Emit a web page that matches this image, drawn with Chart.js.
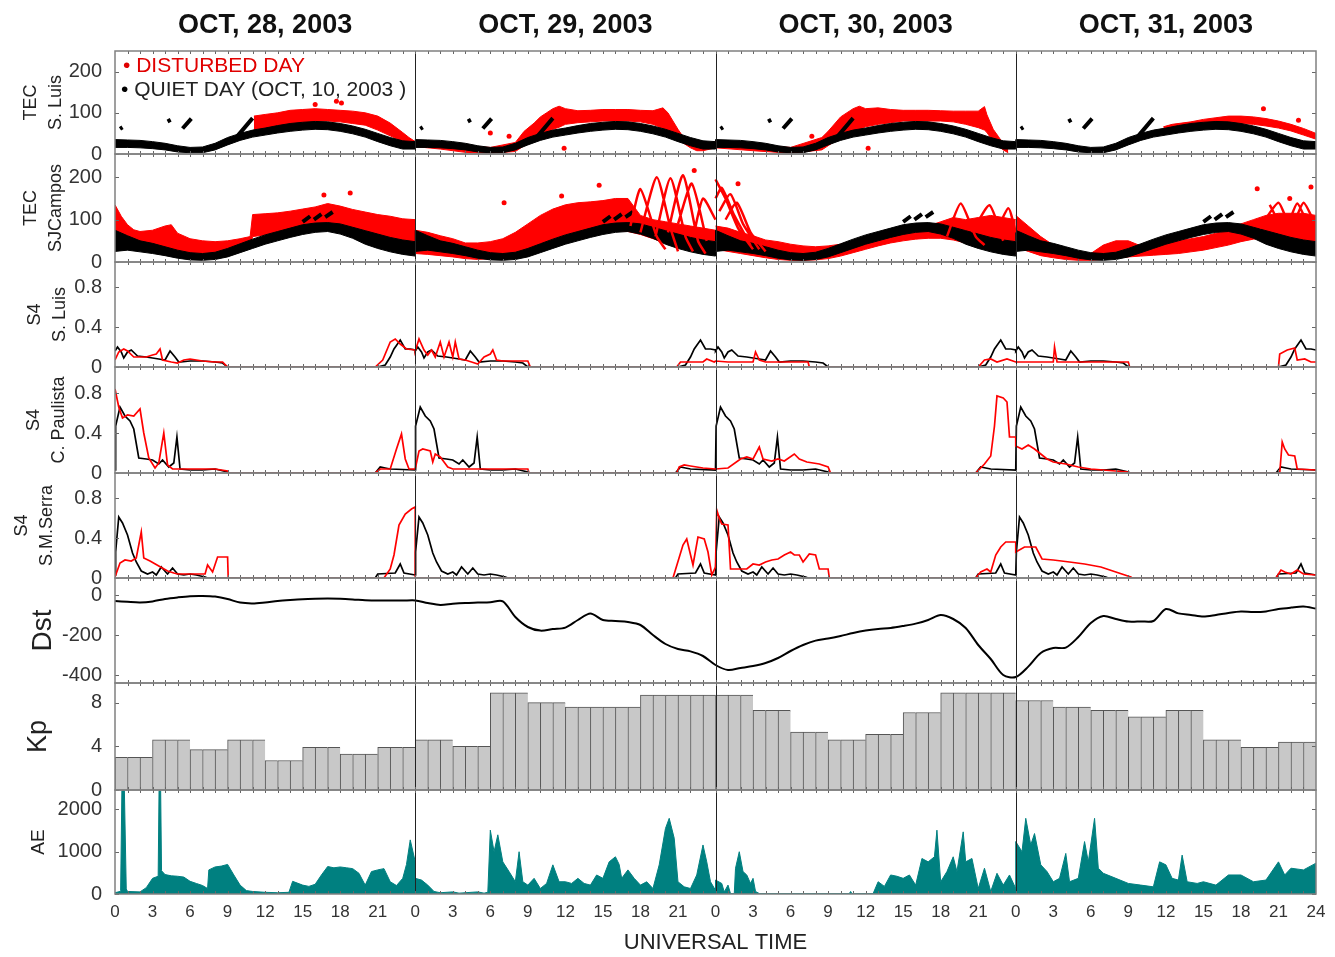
<!DOCTYPE html>
<html>
<head>
<meta charset="utf-8">
<title>Ionosphere and geomagnetic indices, Oct 28-31 2003</title>
<script src="https://cdn.jsdelivr.net/npm/chart.js@4.4.1/dist/chart.umd.min.js"></script>
<style>
    html, body { margin: 0; background: #fff; }
    #wrap { position: relative; width: 1335px; height: 957px; }
    .key { position: absolute; font: 21px 'Liberation Sans', Arial, sans-serif; white-space: nowrap; }
</style>
</head>
<body>
<div id="wrap">
    <canvas id="storm-chart"></canvas>
    <div class="key" style="left:123px; top:53px; color:#e00000">&bull; DISTURBED DAY</div>
    <div class="key" style="left:121px; top:77px; color:#222"><span style="color:#000">&bull;</span> QUIET DAY (OCT, 10, 2003 )</div>
</div>
<script>
const dayTitles = ['OCT, 28, 2003', 'OCT, 29, 2003', 'OCT, 30, 2003', 'OCT, 31, 2003'];
const hourLabels = ['0', '3', '6', '9', '12', '15', '18', '21'];
const tecTicks = [0, 100, 200];
const s4Ticks = [0, 0.4, 0.8];
const dstTicks = [0, -200, -400];
const kpTicks = [0, 4, 8];
const aeTicks = [0, 1000, 2000];

// quiet day (Oct 10) TEC band, same curve repeated on every day: [hour, TEC]
const tecSluisQuietUp = [[0,35],[1,34],[2,33],[3,30],[4,26],[5,20],[6,16],[7,17],[8,26],[9,40],[10,50],[11,58],[12,63],[13,69],[14,74],[15,77],[16,79],[17,78],[18,74],[19,68],[20,60],[21,50],[22,40],[23,32],[24,30]];
const tecSluisQuietLow = [[0,16],[1,16],[2,15],[3,13],[4,10],[5,5],[6,3],[7,3],[8,10],[9,22],[10,33],[11,41],[12,46],[13,51],[14,55],[15,58],[16,60],[17,59],[18,55],[19,49],[20,41],[21,30],[22,20],[23,12],[24,12]];
const tecSluisQuietDashes = [[[0.4,61],[0.6,65]], [[4.2,79],[4.45,83]], [[5.4,62],[6.1,86]], [[9.8,44],[11.0,87]]];
const tecSjcQuietUp = [[0,75],[1,62],[2,50],[3,44],[4,36],[5,28],[6,22],[7,20],[8,23],[9,32],[10,43],[11,54],[12,64],[13,72],[14,80],[15,88],[16,92],[17,93],[18,90],[19,82],[20,74],[21,66],[22,58],[23,52],[24,48]];
const tecSjcQuietLow = [[0,25],[1,28],[2,24],[3,20],[4,15],[5,9],[6,5],[7,4],[8,6],[9,12],[10,22],[11,32],[12,42],[13,50],[14,58],[15,65],[16,70],[17,72],[18,66],[19,56],[20,42],[21,32],[22,24],[23,18],[24,14]];
const tecSjcQuietDashes = [[[15.0,95],[15.6,108]], [[15.9,100],[16.5,113]], [[16.8,106],[17.4,118]]];

// disturbed days TEC, one list per day (Oct 28..31)
const tecSluisRedUp = [
    [[11.1,92],[12,96],[13,100],[14,106],[15,108],[16,110],[17,108],[18,106],[19,104],[20,100],[21,92],[22,75],[23,52],[23.5,40],[24,30]],
    [[0,32],[2,28],[4,20],[6,16],[8,28],[8.7,55],[9.5,75],[10,90],[10.5,100],[11,110],[11.5,116],[12,110],[13,105],[14,106],[15,108],[16,108],[17,108],[18,106],[19,105],[19.8,112],[20.2,100],[21,60],[21.5,38],[22,25],[22.5,18],[23,24],[24,30]],
    [[0,30],[3,22],[6,16],[8.5,40],[9,55],[10,90],[11,110],[11.5,116],[12,110],[13,112],[14,108],[15,106],[16,106],[17,106],[18,105],[19,104],[20,104],[21,104],[21.5,115],[21.7,95],[22.2,60],[22.6,43],[23,25],[23.4,14]],
    [[11.8,66],[12.5,72],[14,78],[15,84],[16,88],[17,92],[18,92],[19,90],[20,86],[21,80],[22,72],[23,62],[24,50]],
];
const tecSluisRedLow = [
    [[11.1,60],[12,62],[13,66],[14,72],[15,76],[16,80],[17,80],[18,78],[19,74],[20,70],[21,58],[22,44],[23,30],[23.5,24],[24,20]],
    [[0,18],[2,12],[4,4],[6,2],[8,6],[8.7,20],[9.5,30],[10,45],[10.5,52],[11,60],[11.5,65],[12,72],[13,76],[14,78],[15,80],[16,80],[17,80],[18,78],[19,72],[19.8,62],[20.2,55],[21,35],[21.5,25],[22,15],[22.5,8],[23,8],[24,15]],
    [[0,15],[3,8],[6,2],[8.5,10],[9,20],[10,40],[11,55],[11.5,60],[12,66],[13,72],[14,76],[15,80],[16,80],[17,80],[18,80],[19,78],[20,72],[21,64],[21.5,58],[21.7,52],[22.2,30],[22.6,20],[23,10],[23.4,3]],
    [[11.8,58],[12.5,60],[14,64],[15,68],[16,72],[17,74],[18,74],[19,72],[20,68],[21,63],[22,56],[23,46],[24,36]],
];
const tecSluisRedDots = [[[16,120],[17.7,128],[18.1,124]], [[6,51],[7.5,43],[11.9,14]], [[7.7,43],[12.2,14]], [[19.8,110],[22.6,82]]];

const tecSjcRedUp = [
    [[0,135],[0.5,108],[1,88],[1.5,76],[2,72],[3,75],[4,85],[4.5,88],[5,68],[6,55],[7,50],[8,48],[9,50],[10,55],[10.8,60],[11,112],[12,114],[13,116],[14,120],[15,125],[16,130],[17,138],[18,132],[19,124],[20,118],[21,112],[22,108],[23,102],[24,100]],
    [[0,75],[1,70],[2,62],[3,55],[4,45],[5,45],[6,48],[7,55],[8,70],[9,90],[10,110],[11,125],[12,135],[13,140],[14,142],[15,145],[16,150],[17,150],[18,110],[19,100],[20,95],[21,90],[22,85],[23,80],[24,75]],
    [[0,85],[1,80],[2,70],[3,62],[4,52],[5,48],[6,42],[7,38],[8,36],[9,38],[10,42],[11,50],[12,56],[13,62],[14,68],[15,74],[16,78],[17,85],[18,95],[19,105],[20,100],[21,105],[22,110],[23,105],[24,100]],
    [[0,110],[1,85],[2,60],[3,40],[4,28],[5,22],[6,20],[7,40],[8,50],[9,50],[10,38],[11,40],[12,45],[13,50],[14,55],[15,60],[16,68],[17,75],[18,90],[19,100],[20,110],[21,115],[22,115],[23,115],[24,110]],
];
const tecSjcRedLow = [
    [[0,55],[0.5,50],[1,45],[1.5,40],[2,35],[3,30],[4,28],[4.5,27],[5,25],[6,22],[7,20],[8,20],[9,22],[10,28],[10.8,35],[11,60],[12,64],[13,68],[14,72],[15,75],[16,78],[17,80],[18,72],[19,62],[20,55],[21,48],[22,42],[23,38],[24,35]],
    [[0,20],[1,18],[2,15],[3,12],[4,8],[5,6],[6,8],[7,12],[8,18],[9,25],[10,35],[11,45],[12,55],[13,62],[14,68],[15,72],[16,75],[17,72],[18,65],[19,55],[20,45],[21,38],[22,30],[23,25],[24,20]],
    [[0,30],[1,25],[2,20],[3,15],[4,10],[5,6],[6,4],[7,4],[8,5],[9,8],[10,14],[11,22],[12,30],[13,38],[14,45],[15,50],[16,54],[17,56],[18,56],[19,52],[20,45],[21,38],[22,30],[23,22],[24,20]],
    [[0,35],[1,25],[2,15],[3,10],[4,6],[5,4],[6,4],[7,6],[8,10],[9,12],[10,14],[11,16],[12,18],[13,20],[14,24],[15,28],[16,34],[17,40],[18,48],[19,54],[20,58],[21,58],[22,55],[23,50],[24,45]],
];
const tecSjcRedArcs = [
    [],
    [[[17.2,85],[18.0,172],[19.3,60],[20.0,30]], [[18.0,70],[19.3,200],[20.4,80],[21.0,25]], [[19.2,60],[20.4,198],[21.6,60],[22.2,25]], [[20.2,70],[21.4,205],[22.6,50],[23.2,20]], [[21.0,90],[22.1,185],[23.3,50]], [[22.3,70],[23.0,150],[24.0,100]]],
    [[[0,195],[0.8,150],[1.8,80],[3,30]], [[0,150],[0.5,175],[1.5,110],[2.8,40]], [[0.3,120],[1.2,160],[2.2,90],[3.5,30]], [[0.8,100],[1.7,140],[2.8,70],[4,25]], [[18.5,60],[19.6,138],[20.8,60],[21.5,40]], [[20.5,70],[21.9,134],[23.0,50]], [[22.3,60],[23.4,127],[24.0,70]]],
    [[[19.5,80],[21.0,140],[22.0,80],[23.0,140],[24,85]], [[20.3,135],[21.5,75],[22.5,138],[23.5,75]]],
];
const tecSjcRedDots = [[[16.7,158],[18.8,163]], [[7.1,140],[11.7,156],[14.7,181],[22.3,216]], [[1.8,185]], [[19.3,173],[23.6,177],[21.9,150]]];

// S4 quiet day (repeated) and disturbed days: [hour, S4]
const s4SluisQuiet = [[0,0.16],[0.2,0.2],[0.5,0.15],[0.7,0.09],[1,0.15],[1.3,0.17],[1.8,0.11],[2.5,0.1],[3.5,0.08],[4,0.07],[4.4,0.16],[4.8,0.1],[5.1,0.05],[6,0.06],[7,0.06],[8,0.05],[8.6,0.04],[9,0],[21,0],[21.6,0.02],[22,0.1],[22.3,0.18],[22.8,0.27],[23.2,0.18],[23.6,0.18],[24,0.17]];
const s4SluisDist = [
    [[0,0.07],[0.3,0.15],[0.7,0.18],[1,0.16],[1.5,0.1],[2.5,0.1],[3,0.12],[3.3,0.13],[3.6,0.18],[3.8,0.07],[4.5,0.05],[5,0.04],[5.5,0.07],[6,0.08],[6.5,0.07],[7,0.06],[8,0.05],[8.6,0.05],[9,0],[20.8,0],[21.4,0.07],[22,0.25],[22.4,0.28],[22.8,0.23],[23.3,0.18],[24,0.17]],
    [[0,0.16],[0.3,0.28],[0.7,0.17],[1,0.12],[1.3,0.17],[1.6,0.1],[2,0.25],[2.3,0.1],[2.7,0.25],[3,0.1],[3.2,0.25],[3.5,0.08],[4,0.07],[4.5,0.05],[5,0.03],[5.5,0.1],[6,0.13],[6.2,0.17],[6.5,0.07],[7,0.06],[9,0.06],[9.2,0],[20.9,0],[21.2,0.05],[23,0.05],[23.3,0.08],[23.9,0.05],[24,0.06]],
    [[0,0.06],[1,0.05],[3,0.05],[3.2,0.15],[3.5,0.07],[4,0.05],[7.4,0.05],[7.5,0],[21,0],[21.5,0.07],[22,0.08],[22.5,0.05],[23.3,0.08],[24,0.05]],
    [[0,0.05],[3,0.05],[3.1,0.2],[3.3,0.05],[9,0.05],[9.1,0],[21,0],[21.1,0.13],[21.7,0.17],[22.3,0.19],[22.5,0.07],[23.1,0.08],[23.6,0.05],[24,0.05]],
];
const s4CpQuiet = [[0,0.03],[0.05,0.47],[0.4,0.66],[0.8,0.57],[1.2,0.52],[1.5,0.44],[1.9,0.15],[2.5,0.14],[3,0.13],[3.5,0.09],[3.8,0.13],[4.3,0.06],[4.7,0.1],[4.95,0.36],[5.2,0.04],[6,0.03],[7,0.03],[8,0.04],[9,0.01],[9.1,0],[20.8,0],[21.2,0.06],[21.6,0.05],[22,0.04],[24,0.03]];
const s4CpDist = [
    [[0,0.84],[0.3,0.66],[0.6,0.55],[1,0.58],[1.5,0.57],[2,0.64],[2.3,0.4],[2.7,0.15],[3.2,0.05],[3.5,0.1],[3.9,0.4],[4.2,0.08],[4.6,0.04],[6,0.04],[8,0.04],[9,0.02],[9.1,0],[20.8,0],[21.2,0.04],[22,0.04],[22.5,0.24],[22.9,0.39],[23.2,0.14],[23.5,0.04],[24,0.04]],
    [[0,0.04],[0.3,0.22],[0.6,0.24],[1.2,0.22],[1.4,0.11],[1.6,0.19],[2,0.16],[2.3,0.11],[2.6,0.06],[3,0.04],[9,0.04],[9.1,0],[20.9,0],[21.1,0.06],[21.5,0.08],[22,0.07],[23,0.05],[24,0.04]],
    [[0,0.04],[1,0.05],[2,0.14],[2.5,0.16],[3,0.14],[3.5,0.26],[3.8,0.14],[4.5,0.12],[5,0.14],[5.5,0.12],[6.3,0.19],[6.7,0.14],[7.3,0.11],[8.3,0.09],[9,0.06],[9.2,0],[20.8,0],[21.5,0.09],[22,0.17],[22.3,0.47],[22.5,0.77],[23,0.75],[23.3,0.71],[23.5,0.36],[24,0.36]],
    [[0,0.27],[0.5,0.24],[1,0.28],[1.5,0.24],[2,0.19],[2.5,0.14],[3,0.11],[4,0.09],[5,0.06],[6,0.04],[7,0.03],[8,0.02],[9,0.01],[9.1,0],[21.1,0],[21.3,0.31],[21.5,0.24],[21.8,0.18],[22.3,0.17],[22.5,0.04],[24,0.03]],
];
const s4SmsQuiet = [[0,0.03],[0.05,0.26],[0.3,0.61],[0.6,0.55],[1,0.43],[1.4,0.25],[1.7,0.16],[2.1,0.07],[2.6,0.04],[3,0.06],[3.3,0.03],[3.7,0.11],[4.2,0.04],[4.6,0.1],[5,0.04],[5.5,0.03],[6,0.04],[6.5,0.03],[7.2,0.01],[7.4,0],[20.8,0],[21,0.04],[22.4,0.05],[22.8,0.14],[23.1,0.05],[24,0.03]];
const s4SmsDist = [
    [[0,0.01],[0.4,0.15],[0.8,0.18],[1.3,0.17],[1.7,0.2],[2.1,0.46],[2.3,0.2],[2.8,0.17],[3.5,0.12],[4.2,0.07],[4.7,0.05],[5,0.04],[7.2,0.04],[7.4,0.13],[7.8,0.06],[8.2,0.21],[9,0.21],[9.05,0],[21.5,0],[22,0.09],[22.3,0.23],[22.7,0.53],[23.2,0.64],[23.7,0.69],[24,0.71]],
    [[0,0],[20.6,0],[21.4,0.33],[21.7,0.39],[22.2,0.13],[22.6,0.41],[23.1,0.39],[23.4,0.26],[23.7,0.03],[24,0.11]],
    [[0,0.11],[0.1,0.68],[0.3,0.6],[0.5,0.54],[1,0.53],[1.2,0.09],[2.5,0.09],[3,0.14],[3.5,0.13],[4,0.16],[4.5,0.18],[5,0.19],[5.5,0.23],[6,0.26],[6.3,0.23],[6.7,0.23],[7,0.16],[7.5,0.24],[8,0.23],[8.3,0.09],[9,0.09],[9.1,0],[20.8,0],[21.2,0.06],[21.7,0.09],[22,0.06],[22.4,0.23],[22.8,0.31],[23.2,0.36],[24,0.36]],
    [[0,0.26],[0.7,0.31],[1.6,0.31],[2.1,0.19],[3,0.18],[4.3,0.16],[5.5,0.14],[6.8,0.11],[8,0.06],[9.2,0.01],[9.3,0],[20.8,0],[21.2,0.08],[21.5,0.06],[22,0.04],[22.5,0.08],[23,0.04],[24,0.03]],
];

// hourly Dst (nT), 00 UT Oct 28 .. 24 UT Oct 31
const dst = [
    -30, -34, -37, -32, -20, -12, -6, -5, -8, -20, -38, -42, -37, -30, -25, -21, -19, -18, -19, -22, -26, -28, -28, -28,
    -27, -40, -50, -44, -40, -38, -36, -32, -110, -160, -178, -170, -163, -125, -92, -125, -130, -135, -150, -200, -245, -270, -282, -305,
    -350, -375, -365, -355, -340, -315, -280, -250, -228, -218, -205, -190, -178, -170, -165, -155, -143, -125, -100, -120, -165, -250, -320, -400,
    -410, -358, -290, -265, -263, -210, -140, -105, -120, -133, -132, -130, -70, -92, -100, -108, -100, -90, -83, -85, -82, -70, -63, -58,
    -68,
];

// 3-hourly Kp
const kp = [
    3.0, 4.6, 3.7, 4.6, 2.7, 3.9, 3.3, 3.9,
    4.6, 4.0, 8.9, 8.0, 7.6, 7.6, 8.7, 8.7,
    8.7, 7.3, 5.3, 4.6, 5.1, 7.1, 8.9, 8.9,
    8.2, 7.6, 7.3, 6.7, 7.3, 4.6, 3.9, 4.4,
];

// AE (nT): [hour, value] per day
const aeByDay = [
    [[0,30],[0.4,60],[0.45,80],[0.55,2450],[0.75,2450],[0.9,120],[1,60],[2,50],[2.5,150],[3,370],[3.45,420],[3.52,2450],[3.65,2450],[3.72,550],[4,460],[4.5,430],[5,420],[5.5,400],[6,300],[6.5,250],[7,200],[7.4,130],[7.5,570],[8,640],[8.5,660],[9,700],[9.5,450],[10,210],[10.5,80],[11,60],[12,40],[13,30],[13.9,40],[14.2,300],[15,210],[15.5,180],[16,230],[16.5,450],[17,650],[17.5,620],[18,640],[18.5,620],[19,600],[19.5,490],[20,210],[20.5,530],[21,570],[21.5,600],[22,290],[22.5,200],[23,370],[23.3,700],[23.6,1280],[24,760]],
    [[0,370],[0.5,330],[1,210],[1.5,60],[2,30],[3,50],[3.5,20],[4,30],[5,50],[5.5,20],[5.8,40],[6,1510],[6.3,1000],[6.6,1400],[7,760],[7.5,530],[8,290],[8.3,1000],[8.6,290],[9,210],[9.5,370],[10,130],[10.5,250],[11,690],[11.5,290],[12,290],[12.5,250],[13,370],[13.5,250],[14,210],[14.5,450],[15,370],[15.5,760],[16,880],[16.3,700],[16.5,370],[17,570],[17.5,370],[18,210],[18.5,290],[19,130],[19.5,690],[20,1550],[20.3,1790],[20.7,1320],[21,290],[21.5,170],[22,130],[22.5,450],[23,1160],[23.3,760],[23.6,290],[24,90]],
    [[0,330],[0.5,250],[0.7,50],[1,210],[1.2,10],[1.5,10],[1.6,610],[1.9,1000],[2.2,530],[2.5,450],[2.8,250],[3,370],[3.2,60],[3.5,10],[10.7,10],[10.8,60],[10.9,10],[12.6,10],[13,290],[13.5,180],[14,450],[14.5,420],[15,370],[15.5,450],[16,210],[16.5,840],[17,760],[17.5,880],[17.7,1510],[18,290],[18.5,530],[19,880],[19.3,530],[19.8,1470],[20,760],[20.5,840],[21,130],[21.5,610],[22,60],[22.5,490],[23,210],[23.5,450],[24,130]],
    [[0,1240],[0.5,1000],[0.8,1790],[1.2,1160],[1.5,1430],[2,690],[2.5,530],[3,290],[3.5,370],[4,960],[4.3,290],[5,370],[5.5,1240],[5.8,760],[6.3,1790],[6.6,610],[7,490],[8,370],[9,250],[10,210],[11,170],[11.5,760],[12,690],[12.5,370],[13,330],[13.3,920],[13.7,290],[14.5,250],[15,290],[16,210],[17,450],[18,450],[19,290],[20,330],[21,760],[21.5,450],[22,610],[23,570],[24,730]],
];

const FONT = "'Liberation Sans', Arial, sans-serif";
const RED = '#ff0000';
const BLACK = '#000000';
const TEAL = '#008080';
Chart.defaults.font.family = FONT;
Chart.defaults.color = '#333';

const shift = (points, day) => points.map(([h, v]) => ({x: day * 24 + h, y: v}));
const everyDay = points => [0, 1, 2, 3].flatMap(day => shift(points, day));
const segments = (list, day) => list.flatMap(seg => [...shift(seg, day), {x: day * 24 + seg[seg.length - 1][0], y: null}]);

const datasets = [];
const add = ds => datasets.push({xAxisID: 'x', pointRadius: 0, borderWidth: 1.5, fill: false, tension: 0, ...ds});

const addBand = (axis, low, up, color, order) => {
    add({yAxisID: axis, data: low, borderColor: color, borderWidth: 1, order});
    add({yAxisID: axis, data: up, borderColor: color, borderWidth: 1, backgroundColor: color, fill: '-1', order});
};

// TEC panels
[['tecSL', tecSluisRedLow, tecSluisRedUp], ['tecSJ', tecSjcRedLow, tecSjcRedUp]].forEach(([axis, lows, ups]) => {
    lows.forEach((low, day) => addBand(axis, shift(low, day), shift(ups[day], day), RED, 6));
});
addBand('tecSL', everyDay(tecSluisQuietLow), everyDay(tecSluisQuietUp), BLACK, 5);
addBand('tecSJ', everyDay(tecSjcQuietLow), everyDay(tecSjcQuietUp), BLACK, 5);
add({yAxisID: 'tecSL', data: [0, 1, 2, 3].flatMap(d => segments(tecSluisQuietDashes, d)), borderColor: BLACK, borderWidth: 4, order: 4});
add({yAxisID: 'tecSJ', data: [0, 1, 2, 3].flatMap(d => segments(tecSjcQuietDashes, d)), borderColor: BLACK, borderWidth: 4, order: 4});
add({yAxisID: 'tecSJ', data: tecSjcRedArcs.flatMap((arcs, d) => segments(arcs, d)), borderColor: RED, borderWidth: 2.5, tension: 0.2, order: 3});
[['tecSL', tecSluisRedDots], ['tecSJ', tecSjcRedDots]].forEach(([axis, dots]) => {
    add({yAxisID: axis, data: dots.flatMap((pts, d) => shift(pts, d)), showLine: false, pointRadius: 2.5,
        pointBackgroundColor: RED, pointBorderWidth: 0, borderColor: RED, order: 3});
});

// S4 panels
[['s4SL', s4SluisQuiet, s4SluisDist], ['s4CP', s4CpQuiet, s4CpDist], ['s4SM', s4SmsQuiet, s4SmsDist]].forEach(([axis, quiet, dist]) => {
    add({yAxisID: axis, data: everyDay(quiet), borderColor: BLACK, borderWidth: 1.7, order: 3});
    add({yAxisID: axis, data: dist.flatMap((pts, d) => shift(pts, d)), borderColor: RED, borderWidth: 1.7, order: 2});
});

// indices
add({yAxisID: 'dst', data: dst.map((v, h) => ({x: h, y: v})), borderColor: BLACK, borderWidth: 2, tension: 0.3, order: 1});
datasets.push({
    type: 'bar', xAxisID: 'x', yAxisID: 'kp', order: 1,
    data: kp.flatMap((v, i) => [0, 1, 2].map(k => ({x: i * 3 + k + 0.5, y: v}))),
    backgroundColor: '#c8c8c8', borderColor: '#555', borderWidth: {top: 1, left: 1, right: 0, bottom: 0},
    barPercentage: 1, categoryPercentage: 1,
});
add({yAxisID: 'ae', data: aeByDay.flatMap((pts, d) => shift(pts, d)), borderColor: TEAL, borderWidth: 1, backgroundColor: TEAL, fill: 'origin', order: 1});

const panelIds = ['tecSL', 'tecSJ', 's4SL', 's4CP', 's4SM', 'dst', 'kp', 'ae'];

const yPanel = (o) => ({
    type: 'linear', position: 'left', stack: 'panels', offset: false,
    min: o.min, max: o.max, weight: o.weight, stackWeight: o.stackWeight,
    grid: {display: false}, border: {display: false},
    afterFit: scale => { scale.width = 115; },
    afterBuildTicks: scale => { scale.ticks = o.ticks.map(value => ({value})); },
    ticks: {callback: v => String(v), font: {size: 20}, color: '#333', padding: 5},
    title: {display: true, text: o.title, color: '#222', font: o.font, padding: {top: o.pad, bottom: 0}},
});

const smallTitle = {size: 18, lineHeight: 1.38};

const panelFrames = {
    id: 'panelFrames',
    afterDatasetsDraw(chart) {
        const {ctx, chartArea, scales} = chart;
        const x = scales.x;
        ctx.save();
        ctx.strokeStyle = '#222';
        ctx.lineWidth = 1;
        [24, 48, 72].forEach(h => {
            const px = Math.round(x.getPixelForValue(h)) + 0.5;
            ctx.beginPath();
            ctx.moveTo(px, chartArea.top);
            ctx.lineTo(px, chartArea.bottom);
            ctx.stroke();
        });
        panelIds.forEach(id => {
            const s = scales[id];
            ctx.strokeStyle = '#666';
            ctx.lineWidth = 1;
            ctx.beginPath();
            for (let h = 1; h < 96; h++) {
                const px = Math.round(x.getPixelForValue(h)) + 0.5;
                ctx.moveTo(px, s.top);
                ctx.lineTo(px, s.top + 3);
                ctx.moveTo(px, s.bottom);
                ctx.lineTo(px, s.bottom - 3);
            }
            s.ticks.forEach(t => {
                const py = Math.round(s.getPixelForValue(t.value)) + 0.5;
                ctx.moveTo(chartArea.left, py);
                ctx.lineTo(chartArea.left + 4, py);
                ctx.moveTo(chartArea.right, py);
                ctx.lineTo(chartArea.right - 4, py);
            });
            ctx.stroke();
            ctx.strokeStyle = '#808080';
            ctx.lineWidth = 1.5;
            ctx.strokeRect(chartArea.left, s.top, chartArea.right - chartArea.left, s.bottom - s.top);
        });
        ctx.restore();
    },
};

new Chart(document.getElementById('storm-chart'), {
    type: 'line',
    data: {datasets},
    options: {
        responsive: true,
        maintainAspectRatio: false,
        animation: false,
        events: [],
        layout: {padding: {left: 0, right: 19, top: 0, bottom: 0}},
        plugins: {legend: {display: false}, tooltip: {enabled: false}},
        scales: {
            x: {
                type: 'linear', position: 'bottom', min: 0, max: 96, offset: false,
                grid: {display: false}, border: {display: false},
                afterBuildTicks: scale => { scale.ticks = Array.from({length: 33}, (_, i) => ({value: i * 3})); },
                afterFit: scale => { scale.height = 63; },
                ticks: {
                    autoSkip: false, maxRotation: 0, minRotation: 0, padding: 0, color: '#333', font: {size: 17},
                    callback: v => (v === 96 ? '24' : hourLabels[(v % 24) / 3]),
                },
                title: {display: true, text: 'UNIVERSAL TIME', color: '#222', font: {size: 22}, padding: {top: 0, bottom: 1}},
            },
            x2: {
                type: 'linear', position: 'top', min: 0, max: 96, offset: false,
                grid: {display: false}, border: {display: false},
                afterBuildTicks: scale => { scale.ticks = dayTitles.map((_, i) => ({value: i * 24 + 12})); },
                afterFit: scale => { scale.height = 51; },
                ticks: {autoSkip: false, maxRotation: 0, padding: 1, color: '#111', font: {size: 27, weight: 'bold'},
                    callback: v => dayTitles[(v - 12) / 24]},
            },
            tecSL: yPanel({min: 0, max: 250, ticks: tecTicks, weight: 8, stackWeight: 103, title: ['TEC', 'S. Luis'], font: smallTitle, pad: 19}),
            tecSJ: yPanel({min: 0, max: 255, ticks: tecTicks, weight: 7, stackWeight: 108, title: ['TEC', 'SJCampos'], font: smallTitle, pad: 19}),
            s4SL: yPanel({min: 0, max: 1.05, ticks: s4Ticks, weight: 6, stackWeight: 105, title: ['S4', 'S. Luis'], font: smallTitle, pad: 23}),
            s4CP: yPanel({min: 0, max: 1.06, ticks: s4Ticks, weight: 5, stackWeight: 106, title: ['S4', 'C. Paulista'], font: smallTitle, pad: 22}),
            s4SM: yPanel({min: 0, max: 1.05, ticks: s4Ticks, weight: 4, stackWeight: 105, title: ['S4', 'S.M.Serra'], font: smallTitle, pad: 10}),
            dst: yPanel({min: -440, max: 85, ticks: dstTicks, weight: 3, stackWeight: 105, title: 'Dst', font: {size: 28}, pad: 26}),
            kp: yPanel({min: 0, max: 9.8, ticks: kpTicks, weight: 2, stackWeight: 107, title: 'Kp', font: {size: 27}, pad: 22}),
            ae: yPanel({min: 0, max: 2460, ticks: aeTicks, weight: 1, stackWeight: 104, title: 'AE', font: {size: 19}, pad: 27}),
        },
    },
    plugins: [panelFrames],
});
</script>
</body>
</html>
